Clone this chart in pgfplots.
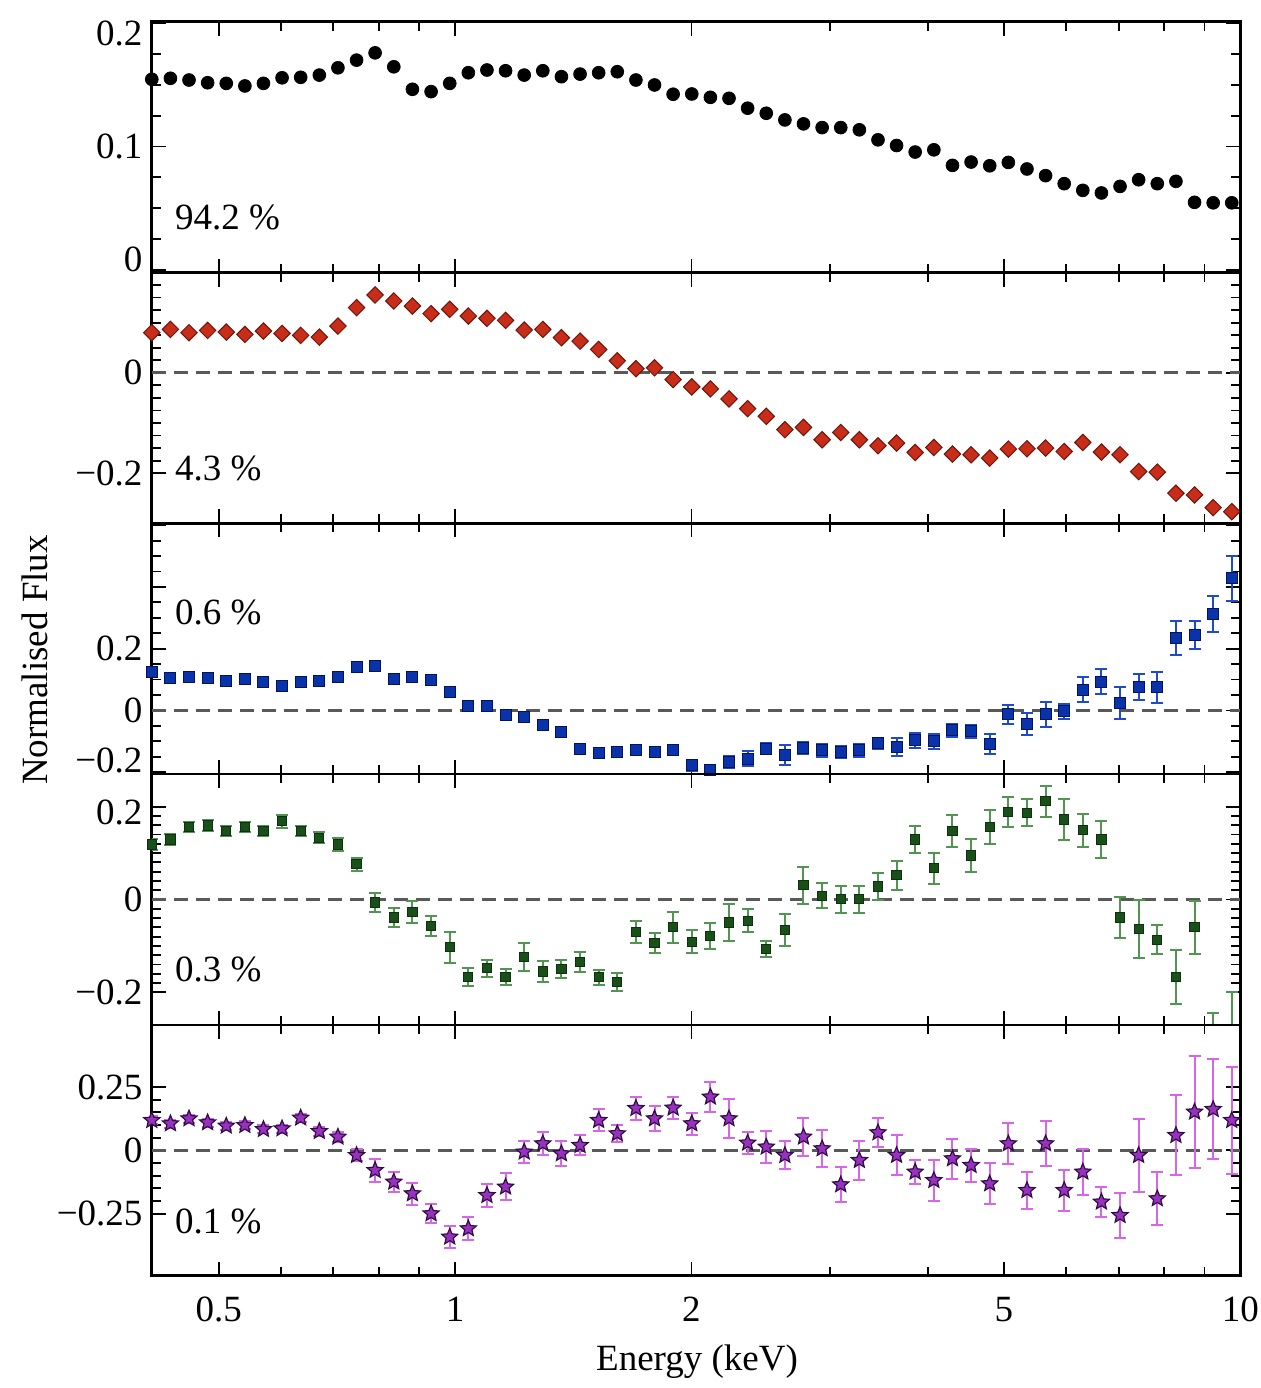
\documentclass[border=0pt]{standalone}
\usepackage{fontspec}
\setmainfont{Liberation Serif}
\usepackage{pgfplots}
\pgfplotsset{compat=1.18}
\usepackage{pgfplotstable}
\usetikzlibrary{plotmarks}

\definecolor{myred}{RGB}{200,45,25}
\definecolor{myreddark}{RGB}{110,20,10}
\definecolor{myblue}{RGB}{10,50,170}
\definecolor{mybluedark}{RGB}{0,20,90}
\definecolor{myblueerr}{RGB}{30,75,205}
\definecolor{mygreen}{RGB}{25,80,25}
\definecolor{mygreenerr}{RGB}{80,150,80}
\definecolor{mypurple}{RGB}{150,50,190}
\definecolor{mypurpledark}{RGB}{50,10,70}
\definecolor{mymagenta}{RGB}{215,100,235}

\newcommand{\fs}{\fontsize{18.5}{22}\selectfont}

\pgfdeclareplotmark{fivestar}{%
  \pgfpathmoveto{\pgfpointpolar{90}{\pgfplotmarksize}}%
  \pgfpathlineto{\pgfpointpolar{126}{0.45\pgfplotmarksize}}%
  \pgfpathlineto{\pgfpointpolar{162}{\pgfplotmarksize}}%
  \pgfpathlineto{\pgfpointpolar{198}{0.45\pgfplotmarksize}}%
  \pgfpathlineto{\pgfpointpolar{234}{\pgfplotmarksize}}%
  \pgfpathlineto{\pgfpointpolar{270}{0.45\pgfplotmarksize}}%
  \pgfpathlineto{\pgfpointpolar{306}{\pgfplotmarksize}}%
  \pgfpathlineto{\pgfpointpolar{342}{0.45\pgfplotmarksize}}%
  \pgfpathlineto{\pgfpointpolar{18}{\pgfplotmarksize}}%
  \pgfpathlineto{\pgfpointpolar{54}{0.45\pgfplotmarksize}}%
  \pgfpathclose
  \pgfusepathqfillstroke
}

\pgfplotsset{
 mypanel/.style={
  xtick={0.5,1,2,5,10},
  minor xtick={0.6,0.7,0.8,0.9,3,4,6,7,8,9},
  tick align=inside,
  major tick length=7pt, minor tick length=4.5pt,
  every tick/.append style={black, line width=0.9pt},
  axis line style={line width=1.3pt},
  tick label style={font=\fs},
  yticklabel style={inner sep=0pt, xshift=-4.5pt},
  xticklabel style={inner sep=0pt, yshift=-10.5pt},
 },
 zeroline/.style={black!65, line width=1.5pt, dash pattern=on 7pt off 4pt, forget plot},
}

\pgfplotstableread{
E y
0.4110 0.1544
0.4341 0.1552
0.4584 0.1538
0.4841 0.1516
0.5113 0.1511
0.5400 0.1490
0.5702 0.1511
0.6022 0.1556
0.6360 0.1560
0.6717 0.1578
0.7094 0.1637
0.7492 0.1699
0.7912 0.1758
0.8356 0.1645
0.8825 0.1463
0.9322 0.1444
0.9845 0.1511
1.0397 0.1597
1.0980 0.1619
1.1596 0.1613
1.2247 0.1578
1.2934 0.1613
1.3660 0.1565
1.4427 0.1586
1.5236 0.1597
1.6092 0.1605
1.6995 0.1538
1.7948 0.1498
1.8956 0.1423
2.0018 0.1425
2.1142 0.1398
2.2328 0.1390
2.3581 0.1310
2.4905 0.1269
2.6302 0.1215
2.7778 0.1183
2.9337 0.1153
3.0983 0.1153
3.2722 0.1135
3.4558 0.1054
3.6497 0.1008
3.8545 0.0955
4.0708 0.0973
4.2993 0.0847
4.5405 0.0874
4.7953 0.0844
5.0644 0.0871
5.3486 0.0818
5.6487 0.0764
5.9657 0.0699
6.3004 0.0645
6.6540 0.0624
7.0274 0.0677
7.4217 0.0731
7.8382 0.0699
8.2780 0.0718
8.7425 0.0548
9.2331 0.0544
9.7503 0.0544
}\tabone

\pgfplotstableread{
E y
0.4110 0.0800
0.4341 0.0866
0.4584 0.0800
0.4841 0.0846
0.5113 0.0812
0.5400 0.0766
0.5702 0.0832
0.6022 0.0786
0.6360 0.0746
0.6717 0.0712
0.7094 0.0932
0.7492 0.1300
0.7912 0.1552
0.8356 0.1432
0.8825 0.1332
0.9322 0.1180
0.9845 0.1266
1.0397 0.1132
1.0980 0.1086
1.1596 0.1046
1.2247 0.0852
1.2934 0.0866
1.3660 0.0700
1.4427 0.0632
1.5236 0.0466
1.6092 0.0240
1.6995 0.0082
1.7948 0.0100
1.8956 -0.0134
2.0018 -0.0280
2.1142 -0.0320
2.2328 -0.0520
2.3581 -0.0714
2.4905 -0.0868
2.6302 -0.1134
2.7778 -0.1088
2.9337 -0.1334
3.0983 -0.1188
3.2722 -0.1334
3.4558 -0.1454
3.6497 -0.1400
3.8545 -0.1588
4.0708 -0.1488
4.2993 -0.1620
4.5405 -0.1634
4.7953 -0.1700
5.0644 -0.1520
5.3486 -0.1514
5.6487 -0.1500
5.9657 -0.1568
6.3004 -0.1388
6.6540 -0.1580
7.0274 -0.1634
7.4217 -0.1968
7.8382 -0.1980
8.2780 -0.2400
8.7425 -0.2434
9.2331 -0.2688
9.7503 -0.2768
}\tabtwo

\pgfplotstableread{
E y e
0.4110 0.1235 0.012
0.4341 0.1042 0.012
0.4584 0.1074 0.012
0.4841 0.1042 0.012
0.5113 0.0945 0.012
0.5400 0.1023 0.012
0.5702 0.0913 0.012
0.6022 0.0806 0.012
0.6360 0.0913 0.012
0.6717 0.0968 0.012
0.7094 0.1074 0.012
0.7492 0.1419 0.012
0.7912 0.1452 0.012
0.8356 0.1023 0.012
0.8825 0.1074 0.012
0.9322 0.0990 0.012
0.9845 0.0590 0.012
1.0397 0.0139 0.014
1.0980 0.0139 0.014
1.1596 -0.0161 0.014
1.2247 -0.0216 0.014
1.2934 -0.0484 0.014
1.3660 -0.0700 0.015
1.4427 -0.1235 0.015
1.5236 -0.1365 0.016
1.6092 -0.1345 0.016
1.6995 -0.1274 0.016
1.7948 -0.1345 0.016
1.8956 -0.1290 0.016
2.0018 -0.1774 0.018
2.1142 -0.1935 0.018
2.2328 -0.1668 0.020
2.3581 -0.1558 0.025
2.4905 -0.1235 0.018
2.6302 -0.1452 0.032
2.7778 -0.1216 0.018
2.9337 -0.1290 0.022
3.0983 -0.1345 0.018
3.2722 -0.1290 0.020
3.4558 -0.1055 0.018
3.6497 -0.1184 0.030
3.8545 -0.0968 0.025
4.0708 -0.1000 0.025
4.2993 -0.0645 0.022
4.5405 -0.0677 0.022
4.7953 -0.1074 0.032
5.0644 -0.0129 0.032
5.3486 -0.0429 0.035
5.6487 -0.0129 0.039
5.9657 -0.0032 0.023
6.3004 0.0677 0.040
6.6540 0.0935 0.040
7.0274 0.0235 0.052
7.4217 0.0752 0.042
7.8382 0.0752 0.050
8.2780 0.2332 0.055
8.7425 0.2452 0.045
9.2331 0.3119 0.058
9.7503 0.4281 0.073
}\tabthree

\pgfplotstableread{
E y e
0.4110 0.1185 0.011
0.4341 0.1292 0.011
0.4584 0.1564 0.011
0.4841 0.1592 0.011
0.5113 0.1470 0.011
0.5400 0.1564 0.011
0.5702 0.1470 0.011
0.6022 0.1684 0.014
0.6360 0.1470 0.011
0.6717 0.1328 0.012
0.7094 0.1185 0.014
0.7492 0.0756 0.014
0.7912 -0.0064 0.021
0.8356 -0.0386 0.020
0.8825 -0.0266 0.023
0.9322 -0.0566 0.021
0.9845 -0.1028 0.033
1.0397 -0.1671 0.020
1.0980 -0.1478 0.018
1.1596 -0.1671 0.018
1.2247 -0.1243 0.030
1.2934 -0.1551 0.023
1.3660 -0.1494 0.020
1.4427 -0.1350 0.021
1.5236 -0.1671 0.016
1.6092 -0.1778 0.020
1.6995 -0.0700 0.023
1.7948 -0.0936 0.021
1.8956 -0.0600 0.033
2.0018 -0.0908 0.025
2.1142 -0.0780 0.028
2.2328 -0.0493 0.040
2.3581 -0.0459 0.025
2.4905 -0.1065 0.018
2.6302 -0.0658 0.034
2.7778 0.0306 0.040
2.9337 0.0077 0.027
3.0983 0.0006 0.029
3.2722 0.0006 0.029
3.4558 0.0279 0.030
3.6497 0.0521 0.031
3.8545 0.1292 0.030
4.0708 0.0671 0.034
4.2993 0.1470 0.034
4.5405 0.0949 0.036
4.7953 0.1564 0.037
5.0644 0.1877 0.032
5.3486 0.1864 0.029
5.6487 0.2113 0.034
5.9657 0.1721 0.044
6.3004 0.1491 0.036
6.6540 0.1292 0.039
7.0274 -0.0386 0.045
7.4217 -0.0636 0.062
7.8382 -0.0866 0.031
8.2780 -0.1671 0.058
8.7425 -0.0600 0.057
9.2331 -0.3000 0.055
9.7503 -0.3000 0.100
}\tabfour

\pgfplotstableread{
E y e
0.4110 0.1184 0.016
0.4341 0.1054 0.016
0.4584 0.1251 0.016
0.4841 0.1094 0.016
0.5113 0.0963 0.016
0.5400 0.0987 0.016
0.5702 0.0829 0.016
0.6022 0.0857 0.016
0.6360 0.1279 0.016
0.6717 0.0750 0.018
0.7094 0.0529 0.020
0.7492 -0.0197 0.024
0.7912 -0.0790 0.046
0.8356 -0.1248 0.040
0.8825 -0.1709 0.043
0.9322 -0.2499 0.038
0.9845 -0.3419 0.043
1.0397 -0.3091 0.046
1.0980 -0.1777 0.046
1.1596 -0.1445 0.053
1.2247 -0.0063 0.043
1.2934 0.0265 0.046
1.3660 -0.0130 0.049
1.4427 0.0197 0.040
1.5236 0.1184 0.043
1.6092 0.0659 0.033
1.6995 0.1658 0.046
1.7948 0.1251 0.050
1.8956 0.1674 0.043
2.0018 0.1054 0.043
2.1142 0.2108 0.059
2.2328 0.1251 0.076
2.3581 0.0292 0.043
2.4905 0.0134 0.063
2.6302 -0.0197 0.056
2.7778 0.0529 0.076
2.9337 0.0067 0.072
3.0983 -0.1354 0.069
3.2722 -0.0395 0.076
3.4558 0.0699 0.057
3.6497 -0.0197 0.079
3.8545 -0.0853 0.049
4.0708 -0.1184 0.082
4.2993 -0.0328 0.079
4.5405 -0.0592 0.066
4.7953 -0.1315 0.082
5.0644 0.0265 0.082
5.3486 -0.1579 0.074
5.6487 0.0265 0.089
5.9657 -0.1579 0.082
6.3004 -0.0853 0.092
6.6540 -0.2037 0.059
7.0274 -0.2566 0.089
7.4217 -0.0197 0.145
7.8382 -0.1907 0.105
8.2780 0.0592 0.158
8.7425 0.1516 0.220
9.2331 0.1619 0.197
9.7503 0.1184 0.210
}\tabfive

\begin{document}
\begin{tikzpicture}
\useasboundingbox (-75.9pt,10.85pt) rectangle (554.1pt,-683.15pt);

% Panel 1
\begin{axis}[xmode=log, xmin=0.411, xmax=10, scale only axis, width=544.3pt, height=125.4pt,
  anchor=north west, at={(0pt,0pt)}, mypanel, xticklabels={},
  ymin=-0.002, ymax=0.201,
  ytick={0,0.1,0.2},
  yticklabels={{\raisebox{5.3pt}[\height][\depth]{0}},{0.1},{\raisebox{-5.2pt}[\height][\depth]{0.2}}},
  minor y tick num=3]
\addplot[only marks, mark=*, mark size=3.2pt, black] table[x=E,y=y]{\tabone};
\node[anchor=west, inner sep=0pt, font=\fs] at (rel axis cs:0.021,0.219) {94.2 \%};
\end{axis}

% Panel 2
\begin{axis}[xmode=log, xmin=0.411, xmax=10, scale only axis, width=544.3pt, height=125.4pt,
  anchor=north west, at={(0pt,-125.4pt)}, mypanel, xticklabels={},
  ymin=-0.3, ymax=0.2,
  ytick={-0.2,0,0.2},
  yticklabels={{−0.2},{0},{}},
  minor y tick num=7]
\addplot[zeroline] coordinates {(0.411,0) (10,0)};
\addplot[only marks, mark=square*, mark size=2.9pt,
  mark options={rotate=45, fill=myred, draw=myreddark, line width=0.5pt}] table[x=E,y=y]{\tabtwo};
\node[anchor=west, inner sep=0pt, font=\fs] at (rel axis cs:0.021,0.219) {4.3 \%};
\end{axis}

% Panel 3
\begin{axis}[xmode=log, xmin=0.411, xmax=10, scale only axis, width=544.3pt, height=125.4pt,
  anchor=north west, at={(0pt,-250.8pt)}, mypanel, xticklabels={},
  ymin=-0.206, ymax=0.606,
  ytick={-0.2,0,0.2,0.4,0.6},
  yticklabels={{\raisebox{6pt}[\height][\depth]{−0.2}},{0},{0.2},{},{}},
  minor y tick num=3]
\addplot[zeroline] coordinates {(0.411,0) (10,0)};
\addplot[only marks, mark=square*, mark size=2.75pt,
  mark options={fill=myblue, draw=mybluedark, line width=0.5pt},
  error bars/.cd, y dir=both, y explicit,
  error bar style={myblueerr, line width=1pt},
  error mark options={rotate=90, mark size=3pt, myblueerr, line width=1pt}]
  table[x=E,y=y,y error=e]{\tabthree};
\node[anchor=west, inner sep=0pt, font=\fs] at (rel axis cs:0.021,0.643) {0.6 \%};
\end{axis}

% Panel 4
\begin{axis}[xmode=log, xmin=0.411, xmax=10, scale only axis, width=544.3pt, height=125.4pt,
  anchor=north west, at={(0pt,-376.2pt)}, mypanel, xticklabels={},
  ymin=-0.27, ymax=0.27,
  ytick={-0.2,0,0.2},
  yticklabels={{−0.2},{0},{\raisebox{-3pt}[\height][\depth]{0.2}}},
  minor y tick num=9]
\addplot[zeroline] coordinates {(0.411,0) (10,0)};
\addplot[only marks, mark=square*, mark size=2.3pt,
  mark options={fill=mygreen, draw=mygreen!60!black, line width=0.5pt},
  error bars/.cd, y dir=both, y explicit,
  error bar style={mygreenerr, line width=1pt},
  error mark options={rotate=90, mark size=3pt, mygreenerr, line width=1pt}]
  table[x=E,y=y,y error=e]{\tabfour};
\node[anchor=west, inner sep=0pt, font=\fs] at (rel axis cs:0.021,0.222) {0.3 \%};
\end{axis}

% Panel 5
\begin{axis}[xmode=log, xmin=0.411, xmax=10, scale only axis, width=544.3pt, height=125.4pt,
  anchor=north west, at={(0pt,-501.6pt)}, mypanel,
  xticklabels={0.5,1,2,5,10},
  ymin=-0.495, ymax=0.495,
  ytick={-0.25,0,0.25},
  yticklabels={{−0.25},{0},{0.25}},
  minor y tick num=4]
\addplot[zeroline] coordinates {(0.411,0) (10,0)};
\addplot[only marks, mark=fivestar, mark size=4.2pt,
  mark options={fill=mypurple, draw=mypurpledark, line width=0.6pt},
  error bars/.cd, y dir=both, y explicit,
  error bar style={mymagenta, line width=1pt},
  error mark options={rotate=90, mark size=3pt, mymagenta, line width=1pt}]
  table[x=E,y=y,y error=e]{\tabfive};
\node[anchor=west, inner sep=0pt, font=\fs] at (rel axis cs:0.021,0.218) {0.1 \%};
\end{axis}

\node[rotate=90, font=\fs] at (-58.4pt,-319.15pt) {Normalised Flux};
\node[font=\fs] at (272.6pt,-670.15pt) {Energy (keV)};
\end{tikzpicture}
\end{document}
